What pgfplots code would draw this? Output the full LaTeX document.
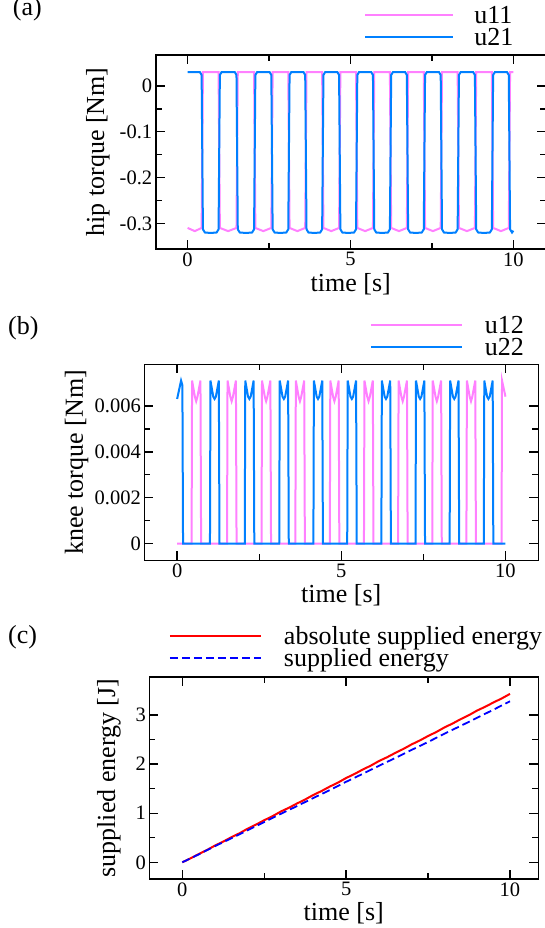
\documentclass[border=0pt]{standalone}
\usepackage{fontspec}
\setmainfont{Liberation Serif}
\usepackage{pgfplots}
\pgfplotsset{compat=1.18}

\definecolor{upink}{RGB}{255,128,255}
\definecolor{ublue}{RGB}{0,128,255}

\pgfplotsset{
  panel/.style={
    scale only axis, anchor=south west,
    xtick={0,5,10}, xticklabels={0,5,10}, minor x tick num=1,
    minor y tick num=1,
    tick align=inside,
    major tick length=9pt, minor tick length=6pt,
    every tick/.style={black, line width=1.4pt},
    axis line style={line width=1.6pt},
    tick label style={font=\fontsize{20.5}{24}\selectfont},
    label style={font=\fontsize{26}{30}\selectfont},
    xlabel={time [s]},
    legend style={draw=none, fill=none, inner sep=0pt, outer sep=0pt,
      font=\fontsize{26}{30}\selectfont, row sep=0pt, column sep=22pt,
      nodes={inner sep=0pt, text height=16pt, text depth=6pt},
      anchor=north west},
    legend cell align=left,
    legend image code/.code={\draw[#1] (0pt,3.7pt) -- (91pt,3.7pt);},
    every axis plot/.append style={line width=2pt},
  }
}

\begin{document}
\begin{tikzpicture}

% ---------- (a) hip torque
\begin{axis}[panel,
  at={(155.7pt,679pt)}, width=390.2pt, height=194pt,
  xmin=-0.98, xmax=11, ymin=-0.356, ymax=0.0677,
  ytick={-0.3,-0.2,-0.1,0}, yticklabels={-0.3,-0.2,-0.1,0},
  ylabel={hip torque [Nm]},
  ylabel style={at={(axis description cs:-0.148,0.5)}, anchor=center},
  xlabel style={at={(axis description cs:0.5,-0.18)}, anchor=center},
  legend style={at={(axis description cs:0.5346,1.2458)}, column sep=20pt},
  legend image code/.code={\draw[#1] (0pt,3.7pt) -- (88pt,3.7pt);},
]
\addplot[upink] coordinates {
 (0,-0.310) (0.22,-0.317) (0.43,-0.310)
 (0.47,0.030) (0.95,0.030)
 (0.99,-0.310) (1.245,-0.317) (1.50,-0.310)
 (1.54,0.030) (2.04,0.030)
 (2.08,-0.310) (2.325,-0.317) (2.57,-0.310)
 (2.61,0.030) (3.09,0.030)
 (3.13,-0.310) (3.37,-0.317) (3.61,-0.310)
 (3.65,0.030) (4.13,0.030)
 (4.17,-0.310) (4.41,-0.317) (4.65,-0.310)
 (4.69,0.030) (5.17,0.030)
 (5.21,-0.310) (5.45,-0.317) (5.69,-0.310)
 (5.73,0.030) (6.21,0.030)
 (6.25,-0.310) (6.49,-0.317) (6.73,-0.310)
 (6.77,0.030) (7.25,0.030)
 (7.29,-0.310) (7.53,-0.317) (7.77,-0.310)
 (7.81,0.030) (8.29,0.030)
 (8.33,-0.310) (8.575,-0.317) (8.82,-0.310)
 (8.86,0.030) (9.34,0.030)
 (9.38,-0.310) (9.62,-0.317) (9.86,-0.310)
 (9.90,0.030) (10,0.030)
};
\addplot[ublue] coordinates {
 (0,0.030) (0.38,0.030) (0.43,0.024)
 (0.47,-0.313) (0.53,-0.320) (0.71,-0.321) (0.89,-0.320) (0.95,-0.313)
 (0.99,0.024) (1.04,0.030) (1.45,0.030) (1.50,0.024)
 (1.54,-0.313) (1.60,-0.320) (1.79,-0.321) (1.98,-0.320) (2.04,-0.313)
 (2.08,0.024) (2.13,0.030) (2.52,0.030) (2.57,0.024)
 (2.61,-0.313) (2.67,-0.320) (2.85,-0.321) (3.03,-0.320) (3.09,-0.313)
 (3.13,0.024) (3.18,0.030) (3.56,0.030) (3.61,0.024)
 (3.65,-0.313) (3.71,-0.320) (3.89,-0.321) (4.07,-0.320) (4.13,-0.313)
 (4.17,0.024) (4.22,0.030) (4.60,0.030) (4.65,0.024)
 (4.69,-0.313) (4.75,-0.320) (4.93,-0.321) (5.11,-0.320) (5.17,-0.313)
 (5.21,0.024) (5.26,0.030) (5.64,0.030) (5.69,0.024)
 (5.73,-0.313) (5.79,-0.320) (5.97,-0.321) (6.15,-0.320) (6.21,-0.313)
 (6.25,0.024) (6.30,0.030) (6.68,0.030) (6.73,0.024)
 (6.77,-0.313) (6.83,-0.320) (7.01,-0.321) (7.19,-0.320) (7.25,-0.313)
 (7.29,0.024) (7.34,0.030) (7.72,0.030) (7.77,0.024)
 (7.81,-0.313) (7.87,-0.320) (8.05,-0.321) (8.23,-0.320) (8.29,-0.313)
 (8.33,0.024) (8.38,0.030) (8.77,0.030) (8.82,0.024)
 (8.86,-0.313) (8.92,-0.320) (9.10,-0.321) (9.28,-0.320) (9.34,-0.313)
 (9.38,0.024) (9.43,0.030) (9.81,0.030) (9.86,0.024)
 (9.90,-0.313) (9.96,-0.320) (10,-0.316)
};
\legend{u11,u21}
\end{axis}

% ---------- (b) knee torque
\begin{axis}[panel,
  at={(144.3pt,367.5pt)}, width=394pt, height=196pt,
  xmin=-1, xmax=11, ymin=-0.00073, ymax=0.0078,
  ytick={0,0.002,0.004,0.006}, yticklabels={0,0.002,0.004,0.006},
  scaled y ticks=false,
  ylabel={knee torque [Nm]},
  ylabel style={at={(axis description cs:-0.1716,0.5)}, anchor=center},
  xlabel style={at={(axis description cs:0.5,-0.176)}, anchor=center},
  legend style={at={(axis description cs:0.5728,1.2388)}},
]
\addplot[upink] coordinates {
 (0,0) (0.44,0)
 (0.44,0) (0.455,0.0071) (0.54,0.0064) (0.58,0.0062) (0.62,0.0064) (0.71,0.0071) (0.73,0)
 (1.52,0) (1.535,0.0071) (1.62,0.0064) (1.66,0.0062) (1.70,0.0064) (1.79,0.0071) (1.81,0)
 (2.57,0) (2.585,0.0071) (2.67,0.0064) (2.71,0.0062) (2.75,0.0064) (2.84,0.0071) (2.86,0)
 (3.60,0) (3.615,0.0071) (3.70,0.0064) (3.74,0.0062) (3.78,0.0064) (3.87,0.0071) (3.89,0)
 (4.65,0) (4.665,0.0071) (4.75,0.0064) (4.79,0.0062) (4.83,0.0064) (4.92,0.0071) (4.94,0)
 (5.69,0) (5.705,0.0071) (5.79,0.0064) (5.83,0.0062) (5.87,0.0064) (5.96,0.0071) (5.98,0)
 (6.73,0) (6.745,0.0071) (6.83,0.0064) (6.87,0.0062) (6.91,0.0064) (7.00,0.0071) (7.02,0)
 (7.77,0) (7.785,0.0071) (7.87,0.0064) (7.91,0.0062) (7.95,0.0064) (8.04,0.0071) (8.06,0)
 (8.81,0) (8.825,0.0071) (8.91,0.0064) (8.95,0.0062) (8.99,0.0064) (9.08,0.0071) (9.10,0)
 (9.88,0) (9.895,0.0071) (10,0.0064)
};
\addplot[ublue] coordinates {
 (0,0.0063) (0.12,0.0071) (0.16,0.0069) (0.18,0)
 (1.00,0) (1.015,0.0071) (1.10,0.0064) (1.14,0.0063) (1.18,0.0064) (1.27,0.0071) (1.29,0)
 (2.06,0) (2.075,0.0071) (2.16,0.0064) (2.20,0.0063) (2.24,0.0064) (2.33,0.0071) (2.35,0)
 (3.11,0) (3.125,0.0071) (3.21,0.0064) (3.25,0.0063) (3.29,0.0064) (3.38,0.0071) (3.40,0)
 (4.15,0) (4.165,0.0071) (4.25,0.0064) (4.29,0.0063) (4.33,0.0064) (4.42,0.0071) (4.44,0)
 (5.18,0) (5.195,0.0071) (5.28,0.0064) (5.32,0.0063) (5.36,0.0064) (5.45,0.0071) (5.47,0)
 (6.22,0) (6.235,0.0071) (6.32,0.0064) (6.36,0.0063) (6.40,0.0064) (6.49,0.0071) (6.51,0)
 (7.26,0) (7.275,0.0071) (7.36,0.0064) (7.40,0.0063) (7.44,0.0064) (7.53,0.0071) (7.55,0)
 (8.30,0) (8.315,0.0071) (8.40,0.0064) (8.44,0.0063) (8.48,0.0064) (8.57,0.0071) (8.59,0)
 (9.34,0) (9.355,0.0071) (9.44,0.0064) (9.48,0.0063) (9.52,0.0064) (9.61,0.0071) (9.63,0)
 (10,0)
};
\legend{u12,u22}
\end{axis}

% ---------- (c) supplied energy
\begin{axis}[panel,
  at={(149.3pt,49pt)}, width=389pt, height=201.7pt,
  xmin=-1.007, xmax=10.864, ymin=-0.34, ymax=3.768,
  ytick={0,1,2,3}, yticklabels={0,1,2,3},
  ylabel={supplied energy [J]},
  ylabel style={at={(axis description cs:-0.1036,0.5)}, anchor=center},
  xlabel style={at={(axis description cs:0.5,-0.169)}, anchor=center},
  legend style={at={(axis description cs:0.0506,1.2429)}},
]
\addplot[red] coordinates {
 (0,0) (0.25,0.080) (0.5,0.168) (0.75,0.250) (1,0.342) (1.25,0.422) (1.5,0.512)
 (1.75,0.593) (2,0.687) (2.25,0.768) (2.5,0.857) (2.75,0.938) (3,1.032)
 (3.25,1.110) (3.5,1.198) (3.75,1.280) (4,1.372) (4.25,1.452) (4.5,1.542)
 (4.75,1.623) (5,1.717) (5.25,1.797) (5.5,1.887) (5.75,1.968) (6,2.062)
 (6.25,2.140) (6.5,2.228) (6.75,2.310) (7,2.402) (7.25,2.482) (7.5,2.572)
 (7.75,2.653) (8,2.747) (8.25,2.827) (8.5,2.917) (8.75,2.998) (9,3.092)
 (9.25,3.170) (9.5,3.257) (9.75,3.338) (10,3.43)
};
\addplot[blue, dash pattern=on 8pt off 4pt, line width=1.8pt] coordinates {
 (0,0) (0.5,0.16) (1,0.33) (1.5,0.49) (2,0.655) (2.5,0.82) (3,0.985)
 (3.5,1.145) (4,1.31) (4.5,1.47) (5,1.64) (5.5,1.80) (6,1.965)
 (6.5,2.125) (7,2.29) (7.5,2.45) (8,2.62) (8.5,2.78) (9,2.945)
 (9.5,3.11) (10,3.28)
};
\legend{absolute supplied energy,supplied energy}
\end{axis}

\node[anchor=base west, inner sep=0pt, font=\fontsize{26}{30}\selectfont] at (12.7pt,912pt) {(a)};
\node[anchor=base west, inner sep=0pt, font=\fontsize{26}{30}\selectfont] at (8pt,593pt) {(b)};
\node[anchor=base west, inner sep=0pt, font=\fontsize{26}{30}\selectfont] at (8pt,284pt) {(c)};

\pgfresetboundingbox
\useasboundingbox (0,0) rectangle (544pt,928pt);
\end{tikzpicture}
\end{document}
